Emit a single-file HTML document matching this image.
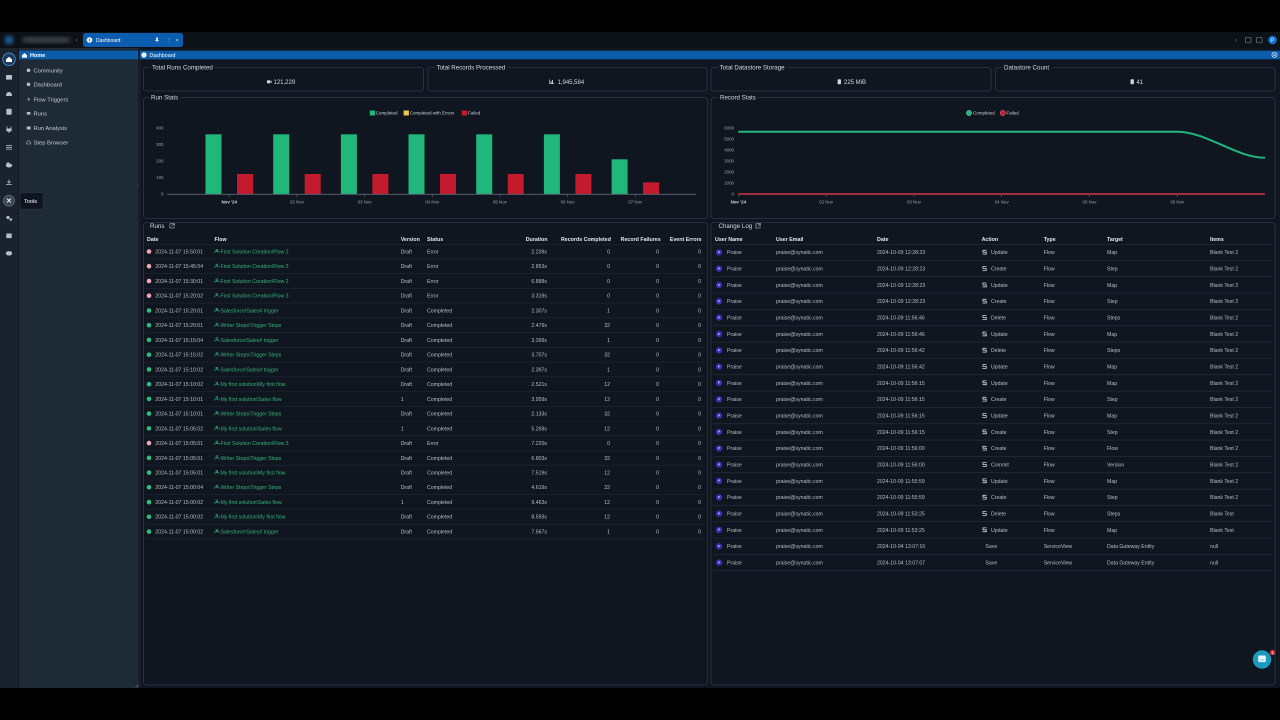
<!DOCTYPE html>
<html><head><meta charset="utf-8">
<style>
html,body{margin:0;padding:0;background:#000;width:1280px;height:720px;overflow:hidden}
svg{display:block}
text{font-family:"Liberation Sans",sans-serif}
.s{font-size:5.2px;fill:#b8bfc8}
.h{font-size:5.3px;font-weight:bold;fill:#e6e9ee}
.g{fill:#34b27b}
.r{text-anchor:end}
.ax{font-size:4.4px;fill:#98a1ab}
.axb{font-size:4.4px;fill:#d5dae0;font-weight:bold}
.ti{font-size:6.2px;fill:#d7dce2;stroke:#10161f;stroke-width:4;paint-order:stroke}
.ti2{font-size:6.2px;fill:#d7dce2}
.nv{font-size:5.8px;fill:#c3cad3}
.v{font-size:6px;fill:#d6dbe1}
.lg{font-size:4.5px;fill:#cdd3da}
.p{font-size:3.6px;fill:#c9c2ff;font-weight:bold}
.sep{stroke:#1f2834;stroke-width:0.6}
.sep2{stroke:#263140;stroke-width:0.6}
.ic{fill:#b6bec8}
</style></head><body>
<svg width="1280" height="720" viewBox="0 0 1280 720" xmlns="http://www.w3.org/2000/svg">
<defs>
<filter id="bl"><feGaussianBlur stdDeviation="2"/></filter>
<g id="fi"><path d="M1.7,-4 h1.8 v1.3 h-1.8z M2.6,-2.7 v1 M0.4,-1.7 h4.4 M0.4,-1.7 v1.5 M4.8,-1.7 v1.5" stroke="#34b27b" stroke-width="0.55" fill="none"/></g>
<g id="ai"><path d="M4,-3.9 H0.4 V-2 H3.8 V-0.1 H0" stroke="#d3d8de" stroke-width="0.8" fill="none"/></g>
<g id="db"><rect x="0" y="-2.6" width="3.4" height="5" rx="0.8" fill="#cfd5dc"/></g>
</defs>
<rect width="1280" height="720" fill="#000"/>
<!-- top bar -->
<rect x="0" y="32" width="1280" height="16" fill="#0d1218"/>
<circle cx="9" cy="40" r="4.5" fill="#1d5c9c" filter="url(#bl)"/>
<rect x="22" y="37" width="48" height="6" rx="3" fill="#3a4149" filter="url(#bl)"/>
<text x="75.5" y="42" style="font-size:6px;fill:#6f7884">&#8249;</text>
<rect x="83" y="33" width="100" height="14" rx="2.5" fill="#0c5cb0"/>
<circle cx="89.5" cy="40" r="2.8" fill="#eef3f9"/>
<rect x="89.1" y="38.8" width="0.8" height="2.4" fill="#0c5cb0"/>
<text x="96" y="41.8" style="font-size:5px;fill:#fff">Dashboard</text>
<rect x="156" y="37.5" width="2" height="3" fill="#cfe0f3"/><rect x="155" y="40.3" width="4" height="0.7" fill="#cfe0f3"/><rect x="156.7" y="41" width="0.6" height="1.6" fill="#cfe0f3"/>
<text x="166.3" y="42" style="font-size:5.5px;fill:#cfe0f3">&#8942;</text>
<text x="175.5" y="42" style="font-size:5.5px;fill:#dfe9f5">&#215;</text>
<text x="1235" y="42" style="font-size:6px;fill:#6f7884">&#8250;</text>
<rect x="1245.5" y="37.3" width="5.5" height="5.5" rx="0.6" fill="none" stroke="#6d7782" stroke-width="0.7"/>
<rect x="1256.5" y="37.3" width="5.5" height="5.5" rx="0.6" fill="none" stroke="#6d7782" stroke-width="0.7"/>
<circle cx="1272.5" cy="40" r="4.3" fill="#1a74d6"/>
<text x="1270.8" y="42" style="font-size:5px;fill:#fff">P</text>

<!-- rail / nav / main -->
<rect x="0" y="48" width="18" height="640" fill="#19222d"/>
<rect x="18" y="48" width="1" height="640" fill="#131a23"/>
<rect x="19" y="48" width="119" height="640" fill="#1f2a37"/>
<rect x="138" y="48" width="3" height="640" fill="#161d27"/>
<rect x="141" y="48" width="1139" height="640" fill="#10161f"/>

<!-- home row and dashboard bar -->
<rect x="19" y="50.7" width="119" height="8.6" fill="#0b5cab"/>
<path d="M22,55.3 L24.5,53 L27,55.3 V57.6 H22 Z" fill="#fff"/>
<text x="30" y="57" style="font-size:5.5px;fill:#fff;font-weight:bold">Home</text>
<rect x="140" y="50.7" width="1140" height="8.6" fill="#0b5cab"/>
<circle cx="144" cy="55" r="2.7" fill="#e6edf5"/>
<text x="149.5" y="57" style="font-size:5.3px;fill:#fff">Dashboard</text>
<circle cx="1274.5" cy="54.8" r="2.6" fill="none" stroke="#e6edf5" stroke-width="0.7"/>
<path d="M1273.3,53.6 l2.4,2.4 M1275.7,53.6 l-2.4,2.4" stroke="#e6edf5" stroke-width="0.6"/>

<!-- rail icons -->
<circle cx="9" cy="59.3" r="6.3" fill="#1b3a5c" stroke="#4a86c4" stroke-width="0.9"/>
<path d="M6,59.5 L9,56.7 L12,59.5 V62 H6 Z" fill="#fff"/>
<rect x="6" y="75" width="6" height="4.6" rx="0.6" class="ic"/>
<path d="M6,96 q0,-4 3,-4 q3,0 3,4 z" class="ic"/>
<rect x="6.3" y="108.8" width="5.4" height="6" rx="1" class="ic"/>
<path d="M7,126.5 v2 M11,126.5 v2" stroke="#b6bec8" stroke-width="0.8"/><path d="M6.3,128.5 h5.4 v1.5 q0,1.8 -2.7,1.8 q-2.7,0 -2.7,-1.8z" class="ic"/><rect x="8.6" y="131.5" width="0.8" height="1.5" class="ic"/>
<path d="M6,145.5 h6 M6,147.3 h6 M6,149.1 h6" stroke="#b6bec8" stroke-width="0.8"/>
<ellipse cx="9" cy="165.5" rx="3.2" ry="2" class="ic"/><circle cx="8" cy="164" r="1.6" class="ic"/>
<path d="M9,179.5 v3.5 M7.5,181.5 l1.5,1.5 l1.5,-1.5 M6,184.5 h6" stroke="#b6bec8" stroke-width="0.8" fill="none"/>
<circle cx="9" cy="200.7" r="5.5" fill="#3a4452" stroke="#6f7a88" stroke-width="0.6"/>
<path d="M7,198.5 l4,4 M11,198.5 l-4,4" stroke="#e8ecf0" stroke-width="1"/>
<circle cx="8" cy="217.5" r="1.6" class="ic"/><circle cx="10.8" cy="219.5" r="1.3" class="ic"/>
<rect x="6.3" y="233.5" width="5.4" height="4.6" rx="0.5" class="ic"/>
<ellipse cx="9" cy="253.3" rx="3.2" ry="2.2" class="ic"/>

<!-- tooltip -->
<path d="M20,199 L18.3,200.9 L20,202.8 Z" fill="#0f1520"/>
<rect x="20" y="192.7" width="23" height="16.5" rx="2" fill="#0f1520" stroke="#2b3543" stroke-width="0.6"/>
<text x="24" y="203" style="font-size:5.6px;fill:#fff">Tools</text>

<!-- nav items -->
<circle cx="28.5" cy="70.3" r="1.8" class="ic"/><text x="33.5" y="72.3" class="nv">Community</text>
<circle cx="28.5" cy="84.3" r="1.8" class="ic"/><text x="33.5" y="86.3" class="nv">Dashboard</text>
<path d="M29,97 l-1.6,2.6 h1.4 l-0.6,2 l2,-2.8 h-1.4 z" class="ic"/><text x="33.5" y="101.3" class="nv">Flow Triggers</text>
<rect x="26.8" y="112" width="3.6" height="2.6" class="ic"/><text x="33.5" y="115.3" class="nv">Runs</text>
<rect x="26.8" y="126.5" width="3.8" height="3" class="ic"/><text x="33.5" y="130" class="nv">Run Analysis</text>
<path d="M26.7,144 q0,-3.2 2,-3.2 q2,0 2,3.2 z" fill="none" stroke="#b6bec8" stroke-width="0.6"/><text x="33.5" y="144.3" class="nv">Step Browser</text>
<path d="M139,184 l-1.2,1.5 l1.2,1.5" stroke="#4a5563" stroke-width="0.5" fill="none"/>
<path d="M135.5,687.5 l3,-3 M137,687.5 l1.5,-1.5" stroke="#8a949f" stroke-width="0.5"/>

<!-- KPI cards -->
<g fill="none" stroke="#2c3746" stroke-width="0.8">
<rect x="143.5" y="67.5" width="280" height="23.5" rx="2.5"/>
<rect x="428" y="67.5" width="279" height="23.5" rx="2.5"/>
<rect x="711" y="67.5" width="280" height="23.5" rx="2.5"/>
<rect x="995.5" y="67.5" width="279.5" height="23.5" rx="2.5"/>
</g>
<text x="152" y="69.6" class="ti">Total Runs Completed</text>
<text x="436.5" y="69.6" class="ti">Total Records Processed</text>
<text x="719.6" y="69.6" class="ti">Total Datastore Storage</text>
<text x="1004" y="69.6" class="ti">Datastore Count</text>
<rect x="267" y="80.3" width="3.3" height="3" fill="#cfd5dc"/><path d="M270.3,81.8 l1.5,-1.2 v2.4z" fill="#cfd5dc"/>
<text x="273.5" y="84" class="v">121,229</text>
<path d="M549.7,79.5 v4.2 h4.6" stroke="#cfd5dc" stroke-width="0.6" fill="none"/><rect x="550.6" y="81" width="0.9" height="2.5" fill="#cfd5dc"/><rect x="552" y="80" width="0.9" height="3.5" fill="#cfd5dc"/>
<text x="557.5" y="84" class="v">1,945,584</text>
<use href="#db" x="837.6" y="81.8"/>
<text x="844" y="84" class="v">225 MiB</text>
<use href="#db" x="1130.5" y="81.8"/>
<text x="1136.5" y="84" class="v">41</text>

<!-- Run Stats panel -->
<rect x="143.5" y="97.5" width="564" height="121" rx="3" fill="none" stroke="#2c3746" stroke-width="0.8"/>
<text x="151" y="99.6" class="ti">Run Stats</text>
<rect x="369.8" y="110.5" width="5.3" height="5" fill="#1fb77a"/>
<text x="375.8" y="114.6" class="lg">Completed</text>
<rect x="403.6" y="110.5" width="5.3" height="5" fill="#e9c84b"/>
<text x="409.8" y="114.6" class="lg">Completed with Errors</text>
<rect x="461.8" y="110.5" width="5.3" height="5" fill="#c41a2d"/>
<text x="468" y="114.6" class="lg">Failed</text>
<text x="163.5" y="129.3" class="ax r">400</text>
<text x="163.5" y="145.9" class="ax r">300</text>
<text x="163.5" y="162.4" class="ax r">200</text>
<text x="163.5" y="179" class="ax r">100</text>
<text x="163.5" y="195.6" class="ax r">0</text>
<g fill="#1fb77a">
<rect x="205.5" y="134.3" width="16" height="59.7"/>
<rect x="273.2" y="134.3" width="16" height="59.7"/>
<rect x="340.9" y="134.3" width="16" height="59.7"/>
<rect x="408.5" y="134.3" width="16" height="59.7"/>
<rect x="476.2" y="134.3" width="16" height="59.7"/>
<rect x="543.9" y="134.3" width="16" height="59.7"/>
<rect x="611.6" y="159.3" width="16" height="34.7"/>
</g>
<g fill="#c41a2d">
<rect x="237" y="174" width="16" height="20"/>
<rect x="304.7" y="174" width="16" height="20"/>
<rect x="372.4" y="174" width="16" height="20"/>
<rect x="440" y="174" width="16" height="20"/>
<rect x="507.7" y="174" width="16" height="20"/>
<rect x="575.4" y="174" width="16" height="20"/>
<rect x="643.1" y="182.3" width="16" height="11.7"/>
</g>
<line x1="167" y1="194.3" x2="696" y2="194.3" stroke="#5b6777" stroke-width="0.8"/>
<g stroke="#5b6777" stroke-width="0.6">
<line x1="229.2" y1="194.3" x2="229.2" y2="197"/><line x1="296.9" y1="194.3" x2="296.9" y2="197"/><line x1="364.6" y1="194.3" x2="364.6" y2="197"/><line x1="432.3" y1="194.3" x2="432.3" y2="197"/><line x1="499.9" y1="194.3" x2="499.9" y2="197"/><line x1="567.6" y1="194.3" x2="567.6" y2="197"/><line x1="635.3" y1="194.3" x2="635.3" y2="197"/>
</g>
<g text-anchor="middle">
<text x="229.2" y="203.6" class="axb">Nov '24</text>
<text x="296.9" y="203.6" class="ax">02 Nov</text>
<text x="364.6" y="203.6" class="ax">03 Nov</text>
<text x="432.3" y="203.6" class="ax">04 Nov</text>
<text x="499.9" y="203.6" class="ax">05 Nov</text>
<text x="567.6" y="203.6" class="ax">06 Nov</text>
<text x="635.3" y="203.6" class="ax">07 Nov</text>
</g>

<!-- Record Stats panel -->
<rect x="711" y="97.5" width="564" height="121" rx="3" fill="none" stroke="#2c3746" stroke-width="0.8"/>
<text x="720" y="99.6" class="ti">Record Stats</text>
<circle cx="969" cy="113" r="2.6" fill="#1fb77a" stroke="#7fe0b5" stroke-width="0.5"/>
<text x="973" y="114.6" class="lg">Completed</text>
<circle cx="1002.8" cy="113" r="2.6" fill="#c41a2d" stroke="#f08a98" stroke-width="0.5"/>
<text x="1006.5" y="114.6" class="lg">Failed</text>
<text x="734" y="129.3" class="ax r">6000</text>
<text x="734" y="140.3" class="ax r">5000</text>
<text x="734" y="151.3" class="ax r">4000</text>
<text x="734" y="162.3" class="ax r">3000</text>
<text x="734" y="173.3" class="ax r">2000</text>
<text x="734" y="184.3" class="ax r">1000</text>
<text x="734" y="195.3" class="ax r">0</text>
<path d="M738.3,131.7 H1177.3 C1206.6,131.7 1235.8,157.7 1265,157.7" fill="none" stroke="#22b67e" stroke-width="2"/>
<line x1="738.3" y1="194" x2="1265" y2="194" stroke="#d2334a" stroke-width="1.6"/>
<g stroke="#5b6777" stroke-width="0.6">
<line x1="738.3" y1="195" x2="738.3" y2="197"/><line x1="826.1" y1="195" x2="826.1" y2="197"/><line x1="913.9" y1="195" x2="913.9" y2="197"/><line x1="1001.7" y1="195" x2="1001.7" y2="197"/><line x1="1089.5" y1="195" x2="1089.5" y2="197"/><line x1="1177.3" y1="195" x2="1177.3" y2="197"/>
</g>
<g text-anchor="middle">
<text x="738.3" y="203.6" class="axb">Nov '24</text>
<text x="826.1" y="203.6" class="ax">02 Nov</text>
<text x="913.9" y="203.6" class="ax">03 Nov</text>
<text x="1001.7" y="203.6" class="ax">04 Nov</text>
<text x="1089.5" y="203.6" class="ax">05 Nov</text>
<text x="1177.3" y="203.6" class="ax">06 Nov</text>
</g>

<!-- Runs panel -->
<rect x="143.5" y="222.5" width="564" height="462.5" rx="3" fill="none" stroke="#2c3746" stroke-width="0.8"/>
<text x="150" y="228" class="ti2">Runs</text>
<path d="M173.5,223.8 h-3.6 v4.2 h4.2 v-1.6 M172.5,223.6 h2 v2 M174.4,223.7 l-2.4,2.4" stroke="#c3cad3" stroke-width="0.55" fill="none"/>
<text x="147" y="241.2" class="h">Date</text>
<text x="214.5" y="241.2" class="h">Flow</text>
<text x="400.7" y="241.2" class="h">Version</text>
<text x="427" y="241.2" class="h">Status</text>
<text x="547.5" y="241.2" class="h r">Duration</text>
<text x="611" y="241.2" class="h r">Records Completed</text>
<text x="660.7" y="241.2" class="h r">Record Failures</text>
<text x="701.6" y="241.2" class="h r">Event Errors</text>
<g class="sep">
<line x1="145" y1="244.8" x2="705" y2="244.8"/>
<line x1="145" y1="258.9" x2="705" y2="258.9"/><line x1="145" y1="273.6" x2="705" y2="273.6"/><line x1="145" y1="288.4" x2="705" y2="288.4"/><line x1="145" y1="303.1" x2="705" y2="303.1"/><line x1="145" y1="317.8" x2="705" y2="317.8"/><line x1="145" y1="332.6" x2="705" y2="332.6"/><line x1="145" y1="347.3" x2="705" y2="347.3"/><line x1="145" y1="362.1" x2="705" y2="362.1"/><line x1="145" y1="376.8" x2="705" y2="376.8"/><line x1="145" y1="391.5" x2="705" y2="391.5"/><line x1="145" y1="406.3" x2="705" y2="406.3"/><line x1="145" y1="421" x2="705" y2="421"/><line x1="145" y1="435.8" x2="705" y2="435.8"/><line x1="145" y1="450.5" x2="705" y2="450.5"/><line x1="145" y1="465.2" x2="705" y2="465.2"/><line x1="145" y1="480" x2="705" y2="480"/><line x1="145" y1="494.7" x2="705" y2="494.7"/><line x1="145" y1="509.5" x2="705" y2="509.5"/><line x1="145" y1="524.2" x2="705" y2="524.2"/><line x1="145" y1="538.9" x2="705" y2="538.9"/>
</g>

<g transform="translate(0,253.4)"><circle cx="149" cy="-1.9" r="2.3" fill="#f2a6b4"/><text x="155.3" class="s">2024-11-07 15:50:01</text><use href="#fi" x="214.3"/><text x="220.5" class="s g">First Solution Creation\Flow 2</text><text x="400.7" class="s">Draft</text><text x="427" class="s">Error</text><text x="547" class="s r">2.239s</text><text x="610" class="s r">0</text><text x="659" class="s r">0</text><text x="701" class="s r">0</text></g>
<g transform="translate(0,268.1)"><circle cx="149" cy="-1.9" r="2.3" fill="#f2a6b4"/><text x="155.3" class="s">2024-11-07 15:45:04</text><use href="#fi" x="214.3"/><text x="220.5" class="s g">First Solution Creation\Flow 2</text><text x="400.7" class="s">Draft</text><text x="427" class="s">Error</text><text x="547" class="s r">2.853s</text><text x="610" class="s r">0</text><text x="659" class="s r">0</text><text x="701" class="s r">0</text></g>
<g transform="translate(0,282.9)"><circle cx="149" cy="-1.9" r="2.3" fill="#f2a6b4"/><text x="155.3" class="s">2024-11-07 15:30:01</text><use href="#fi" x="214.3"/><text x="220.5" class="s g">First Solution Creation\Flow 2</text><text x="400.7" class="s">Draft</text><text x="427" class="s">Error</text><text x="547" class="s r">6.888s</text><text x="610" class="s r">0</text><text x="659" class="s r">0</text><text x="701" class="s r">0</text></g>
<g transform="translate(0,297.6)"><circle cx="149" cy="-1.9" r="2.3" fill="#f2a6b4"/><text x="155.3" class="s">2024-11-07 15:20:02</text><use href="#fi" x="214.3"/><text x="220.5" class="s g">First Solution Creation\Flow 3</text><text x="400.7" class="s">Draft</text><text x="427" class="s">Error</text><text x="547" class="s r">3.319s</text><text x="610" class="s r">0</text><text x="659" class="s r">0</text><text x="701" class="s r">0</text></g>
<g transform="translate(0,312.4)"><circle cx="149" cy="-1.9" r="2.3" fill="#2ebd80"/><text x="155.3" class="s">2024-11-07 15:20:01</text><use href="#fi" x="214.3"/><text x="220.5" class="s g">Salesforce\Sales# trigger</text><text x="400.7" class="s">Draft</text><text x="427" class="s">Completed</text><text x="547" class="s r">2.307s</text><text x="610" class="s r">1</text><text x="659" class="s r">0</text><text x="701" class="s r">0</text></g>
<g transform="translate(0,327.1)"><circle cx="149" cy="-1.9" r="2.3" fill="#2ebd80"/><text x="155.3" class="s">2024-11-07 15:20:01</text><use href="#fi" x="214.3"/><text x="220.5" class="s g">Writer Steps\Trigger Steps</text><text x="400.7" class="s">Draft</text><text x="427" class="s">Completed</text><text x="547" class="s r">2.479s</text><text x="610" class="s r">32</text><text x="659" class="s r">0</text><text x="701" class="s r">0</text></g>
<g transform="translate(0,341.8)"><circle cx="149" cy="-1.9" r="2.3" fill="#2ebd80"/><text x="155.3" class="s">2024-11-07 15:15:04</text><use href="#fi" x="214.3"/><text x="220.5" class="s g">Salesforce\Sales# trigger</text><text x="400.7" class="s">Draft</text><text x="427" class="s">Completed</text><text x="547" class="s r">3.399s</text><text x="610" class="s r">1</text><text x="659" class="s r">0</text><text x="701" class="s r">0</text></g>
<g transform="translate(0,356.6)"><circle cx="149" cy="-1.9" r="2.3" fill="#2ebd80"/><text x="155.3" class="s">2024-11-07 15:15:02</text><use href="#fi" x="214.3"/><text x="220.5" class="s g">Writer Steps\Trigger Steps</text><text x="400.7" class="s">Draft</text><text x="427" class="s">Completed</text><text x="547" class="s r">3.707s</text><text x="610" class="s r">32</text><text x="659" class="s r">0</text><text x="701" class="s r">0</text></g>
<g transform="translate(0,371.3)"><circle cx="149" cy="-1.9" r="2.3" fill="#2ebd80"/><text x="155.3" class="s">2024-11-07 15:10:02</text><use href="#fi" x="214.3"/><text x="220.5" class="s g">Salesforce\Sales# trigger</text><text x="400.7" class="s">Draft</text><text x="427" class="s">Completed</text><text x="547" class="s r">2.397s</text><text x="610" class="s r">1</text><text x="659" class="s r">0</text><text x="701" class="s r">0</text></g>
<g transform="translate(0,386.1)"><circle cx="149" cy="-1.9" r="2.3" fill="#2ebd80"/><text x="155.3" class="s">2024-11-07 15:10:02</text><use href="#fi" x="214.3"/><text x="220.5" class="s g">My first solution\My first flow</text><text x="400.7" class="s">Draft</text><text x="427" class="s">Completed</text><text x="547" class="s r">2.521s</text><text x="610" class="s r">12</text><text x="659" class="s r">0</text><text x="701" class="s r">0</text></g>
<g transform="translate(0,400.8)"><circle cx="149" cy="-1.9" r="2.3" fill="#2ebd80"/><text x="155.3" class="s">2024-11-07 15:10:01</text><use href="#fi" x="214.3"/><text x="220.5" class="s g">My first solution\Sales flow</text><text x="400.7" class="s">1</text><text x="427" class="s">Completed</text><text x="547" class="s r">3.959s</text><text x="610" class="s r">12</text><text x="659" class="s r">0</text><text x="701" class="s r">0</text></g>
<g transform="translate(0,415.5)"><circle cx="149" cy="-1.9" r="2.3" fill="#2ebd80"/><text x="155.3" class="s">2024-11-07 15:10:01</text><use href="#fi" x="214.3"/><text x="220.5" class="s g">Writer Steps\Trigger Steps</text><text x="400.7" class="s">Draft</text><text x="427" class="s">Completed</text><text x="547" class="s r">2.133s</text><text x="610" class="s r">32</text><text x="659" class="s r">0</text><text x="701" class="s r">0</text></g>
<g transform="translate(0,430.3)"><circle cx="149" cy="-1.9" r="2.3" fill="#2ebd80"/><text x="155.3" class="s">2024-11-07 15:05:02</text><use href="#fi" x="214.3"/><text x="220.5" class="s g">My first solution\Sales flow</text><text x="400.7" class="s">1</text><text x="427" class="s">Completed</text><text x="547" class="s r">5.269s</text><text x="610" class="s r">12</text><text x="659" class="s r">0</text><text x="701" class="s r">0</text></g>
<g transform="translate(0,445)"><circle cx="149" cy="-1.9" r="2.3" fill="#f2a6b4"/><text x="155.3" class="s">2024-11-07 15:05:01</text><use href="#fi" x="214.3"/><text x="220.5" class="s g">First Solution Creation\Flow 3</text><text x="400.7" class="s">Draft</text><text x="427" class="s">Error</text><text x="547" class="s r">7.220s</text><text x="610" class="s r">0</text><text x="659" class="s r">0</text><text x="701" class="s r">0</text></g>
<g transform="translate(0,459.8)"><circle cx="149" cy="-1.9" r="2.3" fill="#2ebd80"/><text x="155.3" class="s">2024-11-07 15:05:01</text><use href="#fi" x="214.3"/><text x="220.5" class="s g">Writer Steps\Trigger Steps</text><text x="400.7" class="s">Draft</text><text x="427" class="s">Completed</text><text x="547" class="s r">6.803s</text><text x="610" class="s r">32</text><text x="659" class="s r">0</text><text x="701" class="s r">0</text></g>
<g transform="translate(0,474.5)"><circle cx="149" cy="-1.9" r="2.3" fill="#2ebd80"/><text x="155.3" class="s">2024-11-07 15:05:01</text><use href="#fi" x="214.3"/><text x="220.5" class="s g">My first solution\My first flow</text><text x="400.7" class="s">Draft</text><text x="427" class="s">Completed</text><text x="547" class="s r">7.519s</text><text x="610" class="s r">12</text><text x="659" class="s r">0</text><text x="701" class="s r">0</text></g>
<g transform="translate(0,489.2)"><circle cx="149" cy="-1.9" r="2.3" fill="#2ebd80"/><text x="155.3" class="s">2024-11-07 15:00:04</text><use href="#fi" x="214.3"/><text x="220.5" class="s g">Writer Steps\Trigger Steps</text><text x="400.7" class="s">Draft</text><text x="427" class="s">Completed</text><text x="547" class="s r">4.619s</text><text x="610" class="s r">32</text><text x="659" class="s r">0</text><text x="701" class="s r">0</text></g>
<g transform="translate(0,504)"><circle cx="149" cy="-1.9" r="2.3" fill="#2ebd80"/><text x="155.3" class="s">2024-11-07 15:00:02</text><use href="#fi" x="214.3"/><text x="220.5" class="s g">My first solution\Sales flow</text><text x="400.7" class="s">1</text><text x="427" class="s">Completed</text><text x="547" class="s r">9.463s</text><text x="610" class="s r">12</text><text x="659" class="s r">0</text><text x="701" class="s r">0</text></g>
<g transform="translate(0,518.7)"><circle cx="149" cy="-1.9" r="2.3" fill="#2ebd80"/><text x="155.3" class="s">2024-11-07 15:00:02</text><use href="#fi" x="214.3"/><text x="220.5" class="s g">My first solution\My first flow</text><text x="400.7" class="s">Draft</text><text x="427" class="s">Completed</text><text x="547" class="s r">8.593s</text><text x="610" class="s r">12</text><text x="659" class="s r">0</text><text x="701" class="s r">0</text></g>
<g transform="translate(0,533.5)"><circle cx="149" cy="-1.9" r="2.3" fill="#2ebd80"/><text x="155.3" class="s">2024-11-07 15:00:02</text><use href="#fi" x="214.3"/><text x="220.5" class="s g">Salesforce\Sales# trigger</text><text x="400.7" class="s">Draft</text><text x="427" class="s">Completed</text><text x="547" class="s r">7.567s</text><text x="610" class="s r">1</text><text x="659" class="s r">0</text><text x="701" class="s r">0</text></g>

<!-- Change Log panel -->
<rect x="711" y="222.5" width="564" height="462.5" rx="3" fill="none" stroke="#2c3746" stroke-width="0.8"/>
<text x="718.5" y="228" class="ti2">Change Log</text>
<path d="M759.5,223.8 h-3.6 v4.2 h4.2 v-1.6 M758.5,223.6 h2 v2 M760.4,223.7 l-2.4,2.4" stroke="#c3cad3" stroke-width="0.55" fill="none"/>
<text x="715" y="241.2" class="h">User Name</text>
<text x="776" y="241.2" class="h">User Email</text>
<text x="877" y="241.2" class="h">Date</text>
<text x="981.6" y="241.2" class="h">Action</text>
<text x="1043.7" y="241.2" class="h">Type</text>
<text x="1107" y="241.2" class="h">Target</text>
<text x="1210" y="241.2" class="h">Items</text>
<g class="sep2">
<line x1="713" y1="244.6" x2="1272" y2="244.6"/>
<line x1="713" y1="260.5" x2="1272" y2="260.5"/><line x1="713" y1="276.8" x2="1272" y2="276.8"/><line x1="713" y1="293.1" x2="1272" y2="293.1"/><line x1="713" y1="309.5" x2="1272" y2="309.5"/><line x1="713" y1="325.8" x2="1272" y2="325.8"/><line x1="713" y1="342.1" x2="1272" y2="342.1"/><line x1="713" y1="358.5" x2="1272" y2="358.5"/><line x1="713" y1="374.8" x2="1272" y2="374.8"/><line x1="713" y1="391.1" x2="1272" y2="391.1"/><line x1="713" y1="407.4" x2="1272" y2="407.4"/><line x1="713" y1="423.8" x2="1272" y2="423.8"/><line x1="713" y1="440.1" x2="1272" y2="440.1"/><line x1="713" y1="456.4" x2="1272" y2="456.4"/><line x1="713" y1="472.8" x2="1272" y2="472.8"/><line x1="713" y1="489.1" x2="1272" y2="489.1"/><line x1="713" y1="505.4" x2="1272" y2="505.4"/><line x1="713" y1="521.7" x2="1272" y2="521.7"/><line x1="713" y1="538.1" x2="1272" y2="538.1"/><line x1="713" y1="554.4" x2="1272" y2="554.4"/><line x1="713" y1="570.7" x2="1272" y2="570.7"/>
</g>

<g transform="translate(0,254.2)"><circle cx="719" cy="-1.9" r="3.2" fill="#3b2cb3"/><text x="717.9" y="-0.6" class="p">P</text><text x="727" class="s">Praise</text><text x="776" class="s">praise@synatic.com</text><text x="877" class="s">2024-10-09 12:28:23</text><use href="#ai" x="982.5"/><text x="991" class="s">Update</text><text x="1043.7" class="s">Flow</text><text x="1107" class="s">Map</text><text x="1210" class="s">Blank Test 2</text></g>
<g transform="translate(0,270.5)"><circle cx="719" cy="-1.9" r="3.2" fill="#3b2cb3"/><text x="717.9" y="-0.6" class="p">P</text><text x="727" class="s">Praise</text><text x="776" class="s">praise@synatic.com</text><text x="877" class="s">2024-10-09 12:28:23</text><use href="#ai" x="982.5"/><text x="991" class="s">Create</text><text x="1043.7" class="s">Flow</text><text x="1107" class="s">Step</text><text x="1210" class="s">Blank Test 2</text></g>
<g transform="translate(0,286.9)"><circle cx="719" cy="-1.9" r="3.2" fill="#3b2cb3"/><text x="717.9" y="-0.6" class="p">P</text><text x="727" class="s">Praise</text><text x="776" class="s">praise@synatic.com</text><text x="877" class="s">2024-10-09 12:28:23</text><use href="#ai" x="982.5"/><text x="991" class="s">Update</text><text x="1043.7" class="s">Flow</text><text x="1107" class="s">Map</text><text x="1210" class="s">Blank Test 2</text></g>
<g transform="translate(0,303.2)"><circle cx="719" cy="-1.9" r="3.2" fill="#3b2cb3"/><text x="717.9" y="-0.6" class="p">P</text><text x="727" class="s">Praise</text><text x="776" class="s">praise@synatic.com</text><text x="877" class="s">2024-10-09 12:28:23</text><use href="#ai" x="982.5"/><text x="991" class="s">Create</text><text x="1043.7" class="s">Flow</text><text x="1107" class="s">Step</text><text x="1210" class="s">Blank Test 2</text></g>
<g transform="translate(0,319.5)"><circle cx="719" cy="-1.9" r="3.2" fill="#3b2cb3"/><text x="717.9" y="-0.6" class="p">P</text><text x="727" class="s">Praise</text><text x="776" class="s">praise@synatic.com</text><text x="877" class="s">2024-10-09 11:56:46</text><use href="#ai" x="982.5"/><text x="991" class="s">Delete</text><text x="1043.7" class="s">Flow</text><text x="1107" class="s">Steps</text><text x="1210" class="s">Blank Test 2</text></g>
<g transform="translate(0,335.9)"><circle cx="719" cy="-1.9" r="3.2" fill="#3b2cb3"/><text x="717.9" y="-0.6" class="p">P</text><text x="727" class="s">Praise</text><text x="776" class="s">praise@synatic.com</text><text x="877" class="s">2024-10-09 11:56:46</text><use href="#ai" x="982.5"/><text x="991" class="s">Update</text><text x="1043.7" class="s">Flow</text><text x="1107" class="s">Map</text><text x="1210" class="s">Blank Test 2</text></g>
<g transform="translate(0,352.2)"><circle cx="719" cy="-1.9" r="3.2" fill="#3b2cb3"/><text x="717.9" y="-0.6" class="p">P</text><text x="727" class="s">Praise</text><text x="776" class="s">praise@synatic.com</text><text x="877" class="s">2024-10-09 11:56:42</text><use href="#ai" x="982.5"/><text x="991" class="s">Delete</text><text x="1043.7" class="s">Flow</text><text x="1107" class="s">Steps</text><text x="1210" class="s">Blank Test 2</text></g>
<g transform="translate(0,368.5)"><circle cx="719" cy="-1.9" r="3.2" fill="#3b2cb3"/><text x="717.9" y="-0.6" class="p">P</text><text x="727" class="s">Praise</text><text x="776" class="s">praise@synatic.com</text><text x="877" class="s">2024-10-09 11:56:42</text><use href="#ai" x="982.5"/><text x="991" class="s">Update</text><text x="1043.7" class="s">Flow</text><text x="1107" class="s">Map</text><text x="1210" class="s">Blank Test 2</text></g>
<g transform="translate(0,384.8)"><circle cx="719" cy="-1.9" r="3.2" fill="#3b2cb3"/><text x="717.9" y="-0.6" class="p">P</text><text x="727" class="s">Praise</text><text x="776" class="s">praise@synatic.com</text><text x="877" class="s">2024-10-09 11:56:15</text><use href="#ai" x="982.5"/><text x="991" class="s">Update</text><text x="1043.7" class="s">Flow</text><text x="1107" class="s">Map</text><text x="1210" class="s">Blank Test 2</text></g>
<g transform="translate(0,401.2)"><circle cx="719" cy="-1.9" r="3.2" fill="#3b2cb3"/><text x="717.9" y="-0.6" class="p">P</text><text x="727" class="s">Praise</text><text x="776" class="s">praise@synatic.com</text><text x="877" class="s">2024-10-09 11:56:15</text><use href="#ai" x="982.5"/><text x="991" class="s">Create</text><text x="1043.7" class="s">Flow</text><text x="1107" class="s">Step</text><text x="1210" class="s">Blank Test 2</text></g>
<g transform="translate(0,417.5)"><circle cx="719" cy="-1.9" r="3.2" fill="#3b2cb3"/><text x="717.9" y="-0.6" class="p">P</text><text x="727" class="s">Praise</text><text x="776" class="s">praise@synatic.com</text><text x="877" class="s">2024-10-09 11:56:15</text><use href="#ai" x="982.5"/><text x="991" class="s">Update</text><text x="1043.7" class="s">Flow</text><text x="1107" class="s">Map</text><text x="1210" class="s">Blank Test 2</text></g>
<g transform="translate(0,433.8)"><circle cx="719" cy="-1.9" r="3.2" fill="#3b2cb3"/><text x="717.9" y="-0.6" class="p">P</text><text x="727" class="s">Praise</text><text x="776" class="s">praise@synatic.com</text><text x="877" class="s">2024-10-09 11:56:15</text><use href="#ai" x="982.5"/><text x="991" class="s">Create</text><text x="1043.7" class="s">Flow</text><text x="1107" class="s">Step</text><text x="1210" class="s">Blank Test 2</text></g>
<g transform="translate(0,450.2)"><circle cx="719" cy="-1.9" r="3.2" fill="#3b2cb3"/><text x="717.9" y="-0.6" class="p">P</text><text x="727" class="s">Praise</text><text x="776" class="s">praise@synatic.com</text><text x="877" class="s">2024-10-09 11:56:00</text><use href="#ai" x="982.5"/><text x="991" class="s">Create</text><text x="1043.7" class="s">Flow</text><text x="1107" class="s">Flow</text><text x="1210" class="s">Blank Test 2</text></g>
<g transform="translate(0,466.5)"><circle cx="719" cy="-1.9" r="3.2" fill="#3b2cb3"/><text x="717.9" y="-0.6" class="p">P</text><text x="727" class="s">Praise</text><text x="776" class="s">praise@synatic.com</text><text x="877" class="s">2024-10-09 11:56:00</text><use href="#ai" x="982.5"/><text x="991" class="s">Commit</text><text x="1043.7" class="s">Flow</text><text x="1107" class="s">Version</text><text x="1210" class="s">Blank Test 2</text></g>
<g transform="translate(0,482.8)"><circle cx="719" cy="-1.9" r="3.2" fill="#3b2cb3"/><text x="717.9" y="-0.6" class="p">P</text><text x="727" class="s">Praise</text><text x="776" class="s">praise@synatic.com</text><text x="877" class="s">2024-10-09 11:55:59</text><use href="#ai" x="982.5"/><text x="991" class="s">Update</text><text x="1043.7" class="s">Flow</text><text x="1107" class="s">Map</text><text x="1210" class="s">Blank Test 2</text></g>
<g transform="translate(0,499.2)"><circle cx="719" cy="-1.9" r="3.2" fill="#3b2cb3"/><text x="717.9" y="-0.6" class="p">P</text><text x="727" class="s">Praise</text><text x="776" class="s">praise@synatic.com</text><text x="877" class="s">2024-10-09 11:55:59</text><use href="#ai" x="982.5"/><text x="991" class="s">Create</text><text x="1043.7" class="s">Flow</text><text x="1107" class="s">Step</text><text x="1210" class="s">Blank Test 2</text></g>
<g transform="translate(0,515.5)"><circle cx="719" cy="-1.9" r="3.2" fill="#3b2cb3"/><text x="717.9" y="-0.6" class="p">P</text><text x="727" class="s">Praise</text><text x="776" class="s">praise@synatic.com</text><text x="877" class="s">2024-10-09 11:53:25</text><use href="#ai" x="982.5"/><text x="991" class="s">Delete</text><text x="1043.7" class="s">Flow</text><text x="1107" class="s">Steps</text><text x="1210" class="s">Blank Test</text></g>
<g transform="translate(0,531.8)"><circle cx="719" cy="-1.9" r="3.2" fill="#3b2cb3"/><text x="717.9" y="-0.6" class="p">P</text><text x="727" class="s">Praise</text><text x="776" class="s">praise@synatic.com</text><text x="877" class="s">2024-10-09 11:53:25</text><use href="#ai" x="982.5"/><text x="991" class="s">Update</text><text x="1043.7" class="s">Flow</text><text x="1107" class="s">Map</text><text x="1210" class="s">Blank Test</text></g>
<g transform="translate(0,548.1)"><circle cx="719" cy="-1.9" r="3.2" fill="#3b2cb3"/><text x="717.9" y="-0.6" class="p">P</text><text x="727" class="s">Praise</text><text x="776" class="s">praise@synatic.com</text><text x="877" class="s">2024-10-04 13:07:16</text><text x="985.4" class="s">Save</text><text x="1043.7" class="s">ServiceView</text><text x="1107" class="s">Data Gateway Entity</text><text x="1210" class="s">null</text></g>
<g transform="translate(0,564.5)"><circle cx="719" cy="-1.9" r="3.2" fill="#3b2cb3"/><text x="717.9" y="-0.6" class="p">P</text><text x="727" class="s">Praise</text><text x="776" class="s">praise@synatic.com</text><text x="877" class="s">2024-10-04 13:07:07</text><text x="985.4" class="s">Save</text><text x="1043.7" class="s">ServiceView</text><text x="1107" class="s">Data Gateway Entity</text><text x="1210" class="s">null</text></g>

<!-- chat widget -->
<circle cx="1262" cy="659.5" r="9.2" fill="#1b9bbd"/>
<rect x="1258.2" y="655.5" width="7.6" height="6.6" rx="1.2" fill="#e9f6fa"/>
<path d="M1259.8,659.6 q2.2,1.4 4.4,0" stroke="#1b9bbd" stroke-width="0.5" fill="none"/>
<circle cx="1272.5" cy="652.5" r="2.6" fill="#e0394e"/>
<text x="1271.6" y="654" style="font-size:3.6px;fill:#fff">1</text>
</svg>
</body></html>
